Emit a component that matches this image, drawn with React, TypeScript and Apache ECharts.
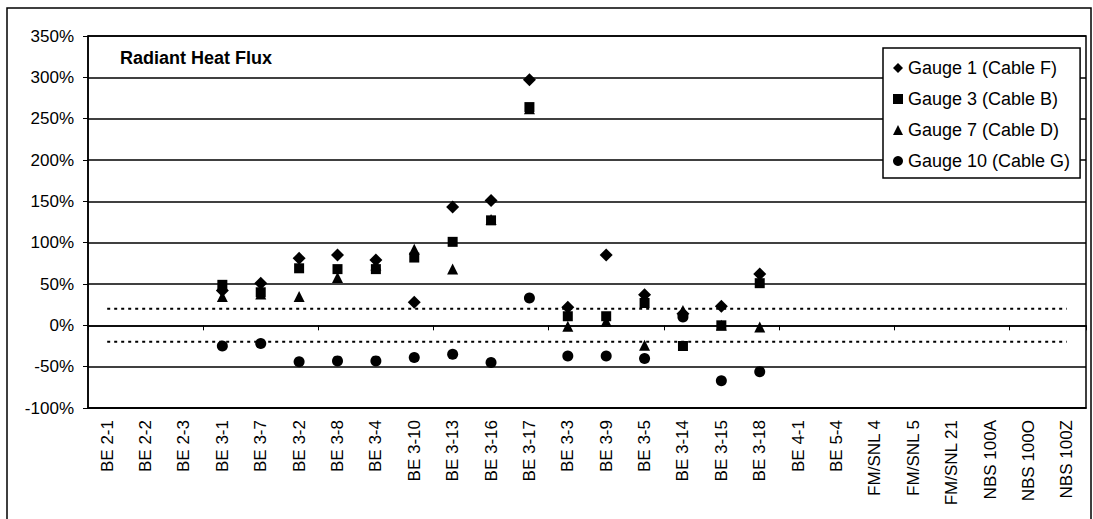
import React, { useEffect, useRef } from "react";
import * as echarts from "echarts";

const categories = [
  "BE 2-1", "BE 2-2", "BE 2-3", "BE 3-1", "BE 3-7", "BE 3-2", "BE 3-8", "BE 3-4",
  "BE 3-10", "BE 3-13", "BE 3-16", "BE 3-17", "BE 3-3", "BE 3-9", "BE 3-5", "BE 3-14",
  "BE 3-15", "BE 3-18", "BE 4-1", "BE 5-4", "FM/SNL 4", "FM/SNL 5", "FM/SNL 21",
  "NBS 100A", "NBS 100O", "NBS 100Z",
];

const N = null;
const gauge1 = [N, N, N, 42, 51, 81, 85, 79, 28, 143, 151, 297, 22, 85, 37, 14, 23, 62, N, N, N, N, N, N, N, N];
const gauge3 = [N, N, N, 49, 40, 69, 68, 68, 82, 101, 127, 264, 11, 11, 27, -25, 0, 51, N, N, N, N, N, N, N, N];
const gauge7 = [N, N, N, 35, 38, 35, 58, 73, 92, 68, 128, 262, -1, 5, -24, 18, 0, -2, N, N, N, N, N, N, N, N];
const gauge10 = [N, N, N, -25, -22, -44, -43, -43, -39, -35, -45, 33, -37, -37, -40, 10, -67, -56, N, N, N, N, N, N, N, N];

const upperLimit = categories.map(() => 20);
const lowerLimit = categories.map(() => -20);

const yMin = -100;
const yMax = 350;
const yStep = 50;

const FONT = "'Liberation Sans', Arial, sans-serif";

export default function App() {
  const ref = useRef<HTMLDivElement>(null);

  useEffect(() => {
    if (!ref.current) return;
    const chart = echarts.init(ref.current, undefined, { renderer: "svg" });
    const markerStyle = { color: "#000", opacity: 1 };
    const scatter = (name: string, data: (number | null)[], symbol: string, size: number) => ({
      name,
      type: "scatter",
      data,
      symbol,
      symbolSize: size,
      itemStyle: markerStyle,
      xAxisIndex: 0,
      yAxisIndex: 0,
      z: 5,
    });
    const refLine = (data: number[]) => ({
      type: "line",
      data,
      symbol: "none",
      silent: true,
      lineStyle: { color: "#000", width: 2, type: [3, 4] },
      z: 3,
    });
    chart.setOption({
      animation: false,
      backgroundColor: "#fff",
      textStyle: { fontFamily: FONT },
      title: {
        text: "Radiant Heat Flux",
        left: 120,
        top: 49,
        padding: 0,
        textStyle: { fontFamily: FONT, fontSize: 18, fontWeight: "bold", color: "#000" },
      },
      graphic: [
        {
          type: "rect",
          shape: { x: 7, y: 8, width: 1084, height: 530 },
          style: { fill: "none", stroke: "#000", lineWidth: 1.5 },
          silent: true,
          z: -1,
        },
      ],
      legend: {
        orient: "vertical",
        left: 883,
        top: 48,
        padding: [10, 10, 7, 10],
        itemGap: 11,
        itemWidth: 10,
        itemHeight: 10,
        borderColor: "#000",
        borderWidth: 1.5,
        backgroundColor: "#fff",
        data: ["Gauge 1 (Cable F)", "Gauge 3 (Cable B)", "Gauge 7 (Cable D)", "Gauge 10 (Cable G)"],
        textStyle: { fontFamily: FONT, fontSize: 18, color: "#000", lineHeight: 20 },
      },
      grid: {
        left: 88,
        right: 7,
        top: 36,
        bottom: 111,
        show: true,
        borderColor: "#000",
        borderWidth: 1.5,
        backgroundColor: "#fff",
      },
      xAxis: [
        {
          type: "category",
          data: categories,
          position: "bottom",
          axisLine: { onZero: false, lineStyle: { color: "#000", width: 1.5 } },
          axisTick: { show: false },
          axisLabel: {
            rotate: 90,
            interval: 0,
            margin: 12,
            fontFamily: FONT,
            fontSize: 17,
            color: "#000",
          },
          splitLine: { show: false },
        },
        {
          type: "category",
          data: categories,
          position: "bottom",
          axisLine: { onZero: true, lineStyle: { color: "#000", width: 1.5 } },
          axisTick: { show: true, length: 5, lineStyle: { color: "#000", width: 1 } },
          axisLabel: { show: false },
          splitLine: { show: false },
        },
      ],
      yAxis: {
        type: "value",
        min: yMin,
        max: yMax,
        interval: yStep,
        axisLine: { show: true, lineStyle: { color: "#000", width: 1.5 } },
        axisTick: { show: true, length: 5, lineStyle: { color: "#000" } },
        axisLabel: {
          formatter: "{value}%",
          margin: 14,
          fontFamily: FONT,
          fontSize: 17,
          color: "#000",
        },
        splitLine: { show: true, lineStyle: { color: "#000", width: 1.5 } },
      },
      series: [
        refLine(upperLimit),
        refLine(lowerLimit),
        scatter("Gauge 1 (Cable F)", gauge1, "diamond", 13),
        scatter("Gauge 3 (Cable B)", gauge3, "rect", 10),
        scatter("Gauge 7 (Cable D)", gauge7, "triangle", 11),
        scatter("Gauge 10 (Cable G)", gauge10, "circle", 11),
      ],
    });
    return () => chart.dispose();
  }, []);

  return (
    <div
      ref={ref}
      style={{ position: "fixed", left: 0, top: 0, width: 1093, height: 519 }}
    />
  );
}
